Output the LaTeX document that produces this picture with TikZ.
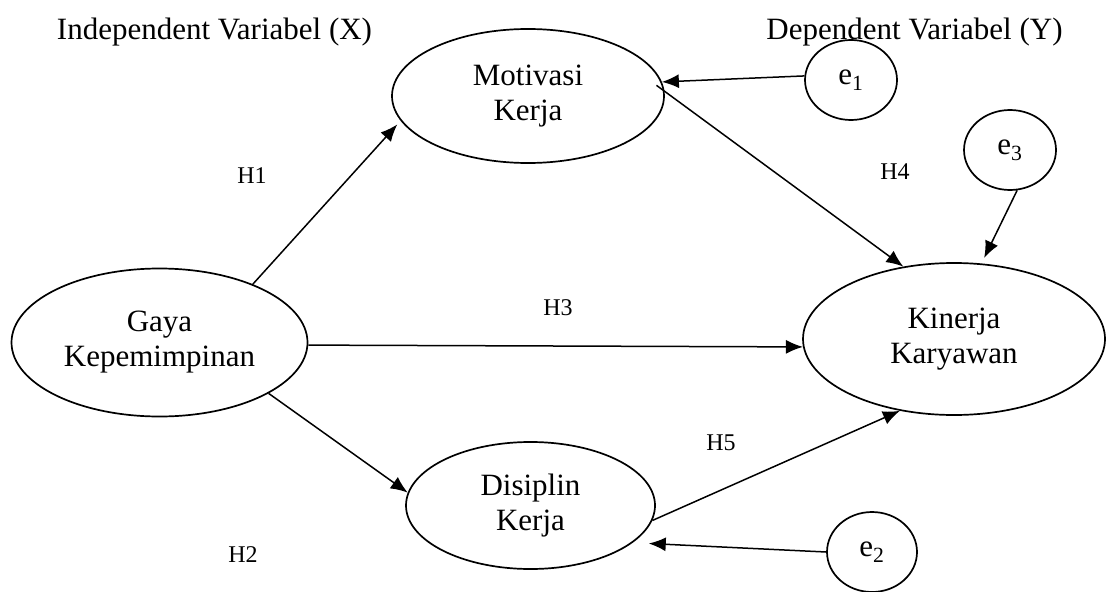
\documentclass[tikz,border=0pt]{standalone}
\usepackage{fontspec}
\setmainfont{Liberation Serif}
\usetikzlibrary{shapes.geometric, arrows.meta}

\begin{document}
\begin{tikzpicture}[
		x=1pt, y=-1pt,
		var/.style={ellipse, draw, line width=1.7pt, inner sep=0pt, align=center, font=\fontsize{31}{35}\selectfont},
		err/.style={var},
		hyp/.style={anchor=base, font=\fontsize{24}{28}\selectfont},
		head/.style={anchor=base, font=\fontsize{31}{35}\selectfont},
		arr/.style={-{Latex[length=17pt, width=14pt]}, line width=1.5pt}
	]
  \useasboundingbox (0,0) rectangle (1107,591);
  \node (x_head) [head] at (214.5, 40) {Independent Variabel (X)};
  \node (y_head) [head] at (914.5, 40) {Dependent Variabel (Y)};
  \node (mot) [var, minimum width=272pt, minimum height=134pt] at (528, 96) {Motivasi\\Kerja};
  \node (gaya) [var, minimum width=296pt, minimum height=148pt] at (159.5, 342.5) {Gaya\\Kepemimpinan};
  \node (kin) [var, minimum width=302pt, minimum height=152pt] at (954, 339) {Kinerja\\Karyawan};
  \node (dis) [var, minimum width=249pt, minimum height=127pt] at (530.5, 505.5) {Disiplin\\Kerja};
  \node (e_1) [err, minimum width=92pt, minimum height=80pt] at (851, 80) {e\textsubscript{1}};
  \node (e_3) [err, minimum width=92pt, minimum height=80pt] at (1010, 150) {e\textsubscript{3}};
  \node (e_2) [err, minimum width=90pt, minimum height=80pt] at (872, 552) {e\textsubscript{2}};
  \node (h_1) [hyp] at (252, 183) {H1};
  \node (h_2) [hyp] at (243, 562) {H2};
  \node (h_3) [hyp] at (558, 315) {H3};
  \node (h_4) [hyp] at (895, 179) {H4};
  \node (h_5) [hyp] at (721, 450) {H5};
  \draw (gaya.32) edge [arr, shorten >=5pt] (mot.191);
  \draw (gaya.-1) edge [arr] (kin.183);
  \draw (gaya.-25) edge [arr] (dis.174);
  \draw (mot.2) edge [arr, shorten <=-10pt] (kin.125);
  \draw (dis.-7) edge [arr] (kin.233);
  \draw (e_1.175) edge [arr] (mot.6);
  \draw (e_3.-80) edge [arr, shorten >=6pt] (kin.70);
  \draw (e_2.180) edge [arr, shorten >=16pt] (dis.-20);
\end{tikzpicture}
\end{document}
